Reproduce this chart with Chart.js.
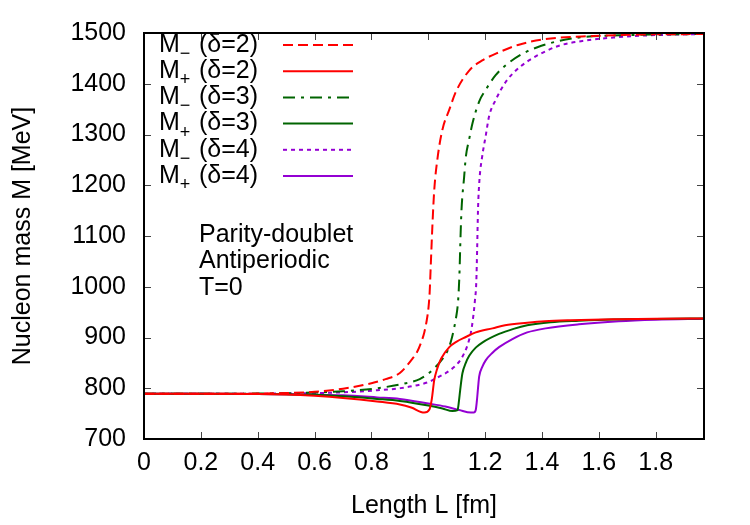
<!DOCTYPE html>
<html>
<head>
<meta charset="utf-8">
<script src="https://cdn.jsdelivr.net/npm/chart.js@4"></script>
<style>
  html, body { margin: 0; padding: 0; background: #fff; }
  #wrap { width: 750px; height: 525px; }
</style>
</head>
<body>
<div id="wrap"><canvas id="massChart" width="750" height="525"></canvas></div>
<script>
// values
const xTickValues = [0, 0.2, 0.4, 0.6, 0.8, 1, 1.2, 1.4, 1.6, 1.8];
const xTickLabels = ['0', '0.2', '0.4', '0.6', '0.8', '1', '1.2', '1.4', '1.6', '1.8'];
const yTickValues = [700, 800, 900, 1000, 1100, 1200, 1300, 1400, 1500];
const yTickLabels = ['700', '800', '900', '1000', '1100', '1200', '1300', '1400', '1500'];

// M- (delta=2), red dashed
const lMinus2 = [0, 0.2, 0.4, 0.5, 0.6, 0.7, 0.8, 0.85, 0.9, 0.944, 0.961, 0.976, 0.986, 0.995, 1.001, 1.005, 1.009, 1.015, 1.021, 1.033, 1.05, 1.074, 1.097, 1.144, 1.19, 1.249, 1.319, 1.413, 1.58, 1.75, 1.97];
const mMinus2 = [789, 789, 789.5, 790.5, 793, 799, 810, 818, 830, 858, 872, 892, 910, 935, 960, 990, 1045, 1126, 1190, 1255, 1310, 1349, 1384, 1426, 1446, 1462, 1477, 1488, 1494, 1497, 1498];
// M+ (delta=2), red solid
const lPlus2 = [0, 0.2, 0.4, 0.5, 0.6, 0.7, 0.82, 0.9, 0.94, 0.986, 1.004, 1.012, 1.021, 1.03, 1.045, 1.074, 1.1, 1.132, 1.167, 1.226, 1.27, 1.348, 1.41, 1.5, 1.67, 1.8, 1.97];
const mPlus2 = [789, 789, 788.5, 787.5, 785, 781, 774, 768, 762, 752, 758, 777, 816, 836, 858, 881, 892, 901, 910, 918, 924, 929, 932, 934, 936, 937, 937.5];
// M- (delta=3), green dash-dot
const lMinus3 = [0, 0.2, 0.4, 0.5, 0.6, 0.7, 0.82, 0.922, 0.97, 1.015, 1.05, 1.068, 1.081, 1.091, 1.098, 1.103, 1.107, 1.11, 1.113, 1.117, 1.126, 1.132, 1.144, 1.156, 1.179, 1.202, 1.237, 1.278, 1.331, 1.384, 1.45, 1.53, 1.65, 1.8, 1.97];
const mMinus3 = [789, 789, 789.5, 790, 791.5, 794, 800, 810, 818, 836, 858, 874, 895, 919, 940, 960, 990, 1030, 1090, 1152, 1215, 1255, 1291, 1323, 1365, 1388, 1417, 1439, 1459, 1472, 1483, 1491, 1495, 1497, 1498];
// M+ (delta=3), green solid
const lPlus3 = [0, 0.2, 0.4, 0.5, 0.6, 0.7, 0.82, 0.9, 1.0, 1.05, 1.085, 1.103, 1.108, 1.112, 1.12, 1.132, 1.144, 1.167, 1.19, 1.249, 1.3, 1.348, 1.43, 1.53, 1.65, 1.8, 1.97];
const mPlus3 = [789, 789, 788.7, 788, 787, 784, 779, 775, 766, 760, 755, 757, 775, 795, 829, 850, 864, 880, 890, 907, 917, 924, 930, 933, 935.5, 936.5, 937.5];
// M- (delta=4), purple dotted
const lMinus4 = [0, 0.2, 0.4, 0.5, 0.6, 0.7, 0.82, 0.9, 1.0, 1.015, 1.097, 1.12, 1.138, 1.15, 1.158, 1.164, 1.169, 1.172, 1.175, 1.18, 1.19, 1.202, 1.214, 1.237, 1.273, 1.308, 1.354, 1.413, 1.46, 1.55, 1.65, 1.76, 1.88, 1.97];
const mMinus4 = [789, 789, 789.3, 789.7, 790.5, 792, 796, 800, 812, 816, 845, 862, 885, 910, 940, 972, 1010, 1075, 1152, 1210, 1258, 1297, 1336, 1368, 1404, 1426, 1446, 1464, 1475, 1485, 1491, 1495, 1497, 1498];
// M+ (delta=4), purple solid
const lPlus4 = [0, 0.2, 0.4, 0.5, 0.6, 0.7, 0.82, 0.9, 1.0, 1.06, 1.109, 1.15, 1.16, 1.167, 1.171, 1.175, 1.179, 1.19, 1.202, 1.226, 1.249, 1.296, 1.348, 1.413, 1.53, 1.67, 1.8, 1.97];
const mPlus4 = [789, 789, 788.8, 788.2, 787.5, 786, 782, 779, 770, 764, 757, 752, 752, 757, 775, 800, 823, 842, 855, 870, 881, 897, 910, 918, 926, 932, 935, 937];

const seriesSubs = ['\u2212', '+', '\u2212', '+', '\u2212', '+'];
const seriesDeltas = ['(\u03b4=2)', '(\u03b4=2)', '(\u03b4=3)', '(\u03b4=3)', '(\u03b4=4)', '(\u03b4=4)'];
const seriesColors = ['#ff0000', '#ff0000', '#006400', '#006400', '#9400d3', '#9400d3'];
const seriesDashes = [[10, 5], [], [12, 6, 3, 6], [], [4, 4], []];
const seriesX = [lMinus2, lPlus2, lMinus3, lPlus3, lMinus4, lPlus4];
const seriesY = [mMinus2, mPlus2, mMinus3, mPlus3, mMinus4, mPlus4];
const noteLines = ['Parity-doublet', 'Antiperiodic', 'T=0'];

const FONT = "'Liberation Sans', Arial, sans-serif";
const FS = 25;

const datasets = seriesX.map((xs, i) => ({
    label: 'M' + seriesSubs[i] + ' ' + seriesDeltas[i],
    data: xs.map((x, j) => ({ x: x, y: seriesY[i][j] })),
    borderColor: seriesColors[i],
    borderDash: seriesDashes[i],
    borderWidth: 2,
    pointRadius: 0,
    fill: false,
    cubicInterpolationMode: 'monotone'
}));

// frame, inward ticks, legend and text box, gnuplot style
const framePlugin = {
    id: 'frame',
    afterDraw(chart) {
        const ctx = chart.ctx;
        const a = chart.chartArea;
        const xs = chart.scales.x, ys = chart.scales.y;
        ctx.save();
        ctx.strokeStyle = '#444';
        ctx.lineWidth = 1;
        xTickValues.forEach(v => {
            const px = Math.round(xs.getPixelForValue(v)) + 0.5;
            ctx.beginPath();
            ctx.moveTo(px, a.bottom); ctx.lineTo(px, a.bottom - 7);
            ctx.moveTo(px, a.top); ctx.lineTo(px, a.top + 7);
            ctx.stroke();
        });
        yTickValues.forEach(v => {
            const py = Math.round(ys.getPixelForValue(v)) + 0.5;
            ctx.beginPath();
            ctx.moveTo(a.left, py); ctx.lineTo(a.left + 7, py);
            ctx.moveTo(a.right, py); ctx.lineTo(a.right - 7, py);
            ctx.stroke();
        });
        ctx.strokeStyle = '#000';
        ctx.lineWidth = 2;
        ctx.strokeRect(a.left, a.top, a.right - a.left, a.bottom - a.top);

        // legend
        ctx.fillStyle = '#000';
        ctx.textBaseline = 'middle';
        ctx.textAlign = 'left';
        seriesSubs.forEach((sub, i) => {
            const y = 45 + i * 26.2;
            ctx.font = FS + 'px ' + FONT;
            ctx.fillText('M', 159, y);
            const mw = ctx.measureText('M').width;
            ctx.font = '18px ' + FONT;
            ctx.fillText(sub, 159 + mw, y + 9);
            ctx.font = FS + 'px ' + FONT;
            ctx.fillText(seriesDeltas[i], 199, y);
            ctx.beginPath();
            ctx.strokeStyle = seriesColors[i];
            ctx.lineWidth = 2;
            ctx.setLineDash(seriesDashes[i]);
            ctx.moveTo(283, y);
            ctx.lineTo(353, y);
            ctx.stroke();
            ctx.setLineDash([]);
        });

        ctx.font = FS + 'px ' + FONT;
        ctx.fillStyle = '#000';
        noteLines.forEach((t, i) => {
            ctx.fillText(t, 199, 235 + i * 26.5);
        });
        ctx.restore();
    }
};

new Chart(document.getElementById('massChart'), {
    type: 'line',
    data: { datasets: datasets },
    options: {
        responsive: false,
        animation: false,
        devicePixelRatio: 1,
        layout: { padding: { left: 0, top: 26, right: 46, bottom: 0 } },
        plugins: { legend: { display: false }, tooltip: { enabled: false } },
        scales: {
            x: {
                type: 'linear',
                min: 0,
                max: 1.97,
                afterFit: s => { s.height = 86; },
                afterBuildTicks: s => { s.ticks = xTickValues.map(v => ({ value: v })); },
                grid: { display: false, drawTicks: false },
                border: { display: false },
                ticks: {
                    color: '#000',
                    font: { family: FONT, size: FS },
                    padding: 9,
                    maxRotation: 0,
                    autoSkip: false,
                    callback: (v, i) => xTickLabels[i]
                },
                title: {
                    display: true,
                    text: 'Length L [fm]',
                    color: '#000',
                    font: { family: FONT, size: FS },
                    padding: { top: 0, bottom: 4 }
                }
            },
            y: {
                type: 'linear',
                min: 700,
                max: 1500,
                afterFit: s => { s.width = 144; },
                afterBuildTicks: s => { s.ticks = yTickValues.map(v => ({ value: v })); },
                grid: { display: false, drawTicks: false },
                border: { display: false },
                ticks: {
                    color: '#000',
                    font: { family: FONT, size: FS },
                    padding: 18,
                    autoSkip: false,
                    callback: (v, i) => yTickLabels[i]
                },
                title: {
                    display: true,
                    text: 'Nucleon mass M [MeV]',
                    color: '#000',
                    font: { family: FONT, size: FS },
                    padding: { top: 8, bottom: 0 }
                }
            }
        }
    },
    plugins: [framePlugin]
});
</script>
</body>
</html>
